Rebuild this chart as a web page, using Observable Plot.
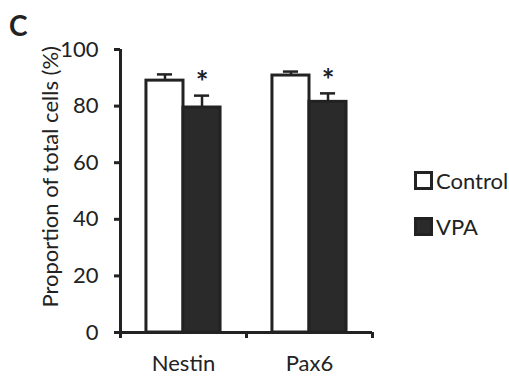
<!DOCTYPE html>
<html>
<head>
<meta charset="utf-8">
<script src="https://cdn.jsdelivr.net/npm/d3@7"></script>
<script src="https://cdn.jsdelivr.net/npm/@observablehq/plot@0.6"></script>
<style>
  html, body { margin: 0; padding: 0; background: #ffffff; }
  #wrap { position: relative; width: 509px; height: 377px; font-family: Lato, "Open Sans", sans-serif; color: #222; }
  #panel { position: absolute; left: 9px; top: 8px; font-size: 28px; font-weight: bold; }
  .leg { position: absolute; left: 414px; display: flex; align-items: center; font-size: 22px; }
  .sw { width: 13px; height: 13px; border: 3px solid #222; margin-right: 3px; }
</style>
</head>
<body>
<div id="wrap">
  <div id="panel">C</div>
  <div class="leg" style="top:167px"><div class="sw" style="background:#fff"></div>Control</div>
  <div class="leg" style="top:213px"><div class="sw" style="background:#2a2a2a"></div>VPA</div>
</div>
<script>
const categories = ["Nestin", "Pax6"];
const groups = ["Control", "VPA"];
const controlMeans = [89.0, 90.8];
const controlErrors = [2.2, 1.4];
const vpaMeans = [79.5, 81.5];
const vpaErrors = [4.2, 3.0];
const significant = [true, true];
const yTicks = [0, 20, 40, 60, 80, 100];
const yLabel = "Proportion of total cells (%)";

// layout of bars within each category slot (fraction of slot)
const pad = 0.206, bw = 0.294;
const data = [];
categories.forEach((c, i) => {
  data.push({cat: c, i, group: "Control", value: controlMeans[i], err: controlErrors[i], k: 0});
  data.push({cat: c, i, group: "VPA", value: vpaMeans[i], err: vpaErrors[i], k: 1});
});
const left = d => d.i + pad + d.k * bw;
const right = d => d.i + pad + (d.k + 1) * bw;
const mid = d => d.i + pad + (d.k + 0.5) * bw;
const cap = 0.06;
const stars = data.filter(d => d.group === "VPA" && significant[d.i]);
const ink = "#222";

const chart = Plot.plot({
  width: 509,
  height: 377,
  marginLeft: 120,
  marginRight: 137,
  marginTop: 49,
  marginBottom: 45,
  style: {background: "transparent", fontFamily: "Lato, 'Open Sans', sans-serif", color: ink, overflow: "visible"},
  x: {domain: [0, categories.length], axis: null},
  y: {domain: [0, 100], axis: null},
  marks: [
    Plot.rectY(data, {x1: left, x2: right, y1: 0, y2: "value",
      fill: d => d.group === "Control" ? "#fff" : "#2a2a2a", stroke: ink, strokeWidth: 3}),
    Plot.ruleX(data, {x: mid, y1: "value", y2: d => d.value + d.err, stroke: ink, strokeWidth: 2.5}),
    Plot.ruleY(data, {y: d => d.value + d.err, x1: d => mid(d) - cap, x2: d => mid(d) + cap, stroke: ink, strokeWidth: 2.5}),
    Plot.text(stars, {x: mid, y: d => d.value + d.err, text: () => "*", dy: -12, fontSize: 30, fontWeight: "bold", fill: ink, lineAnchor: "middle"}),
    Plot.ruleX([0], {stroke: ink, strokeWidth: 3}),
    Plot.ruleY([0], {stroke: ink, strokeWidth: 3}),
    Plot.axisY({ticks: yTicks, tickSize: 6, tickPadding: 16, fontSize: 22, strokeWidth: 3, stroke: ink, label: null, fill: ink}),
    Plot.axisX({ticks: d3.range(categories.length + 1), tickSize: 6, strokeWidth: 3, stroke: ink, tickFormat: () => "", label: null}),
    Plot.text(categories, {x: (d, i) => i + 0.5, y: 0, text: d => d, dy: 31, fontSize: 22, fill: ink, lineAnchor: "middle"}),
    Plot.text([yLabel], {frameAnchor: "left", y: 55, text: d => d, rotate: -90, dx: -70, fontSize: 22, fill: ink, textAnchor: "middle", lineAnchor: "middle"})
  ]
});
document.getElementById("wrap").appendChild(chart);
</script>
</body>
</html>
